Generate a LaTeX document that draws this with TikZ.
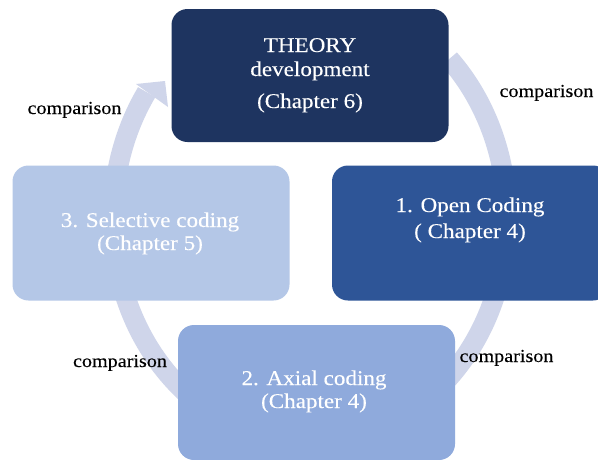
\documentclass[tikz,border=0pt]{standalone}
\usepackage{fontspec}
\setmainfont[FakeStretch=1.10,FakeBold=0.2]{Liberation Serif}
\definecolor{navy}{HTML}{1E3460}
\definecolor{openblue}{HTML}{2E5597}
\definecolor{axialblue}{HTML}{8FAADC}
\definecolor{selblue}{HTML}{B4C7E7}
\definecolor{ringc}{HTML}{CFD5EA}
\begin{document}
\begin{tikzpicture}[x=1pt,y=-1pt,
  box/.style={rounded corners=16pt, minimum width=277pt, minimum height=135pt, inner sep=0pt, draw=none},
  boxtext/.style={text=white, font=\fontsize{21}{24}\selectfont, anchor=base, inner sep=0pt},
  cmp/.style={font=\fontsize{18.3}{22}\selectfont, anchor=base, text=black, inner sep=0pt},
  ring/.style={draw=ringc, line width=20pt}]
\useasboundingbox (0,0) rectangle (598,459);
\clip (0,0) rectangle (598,459);
\fill[white] (0,0) rectangle (598,459);
% cycle ring
\draw[ring] (310,218) ++(-45:197 and 225) arc[start angle=-45,end angle=214,x radius=197,y radius=225] coordinate (ringend);
\fill[ringc] (136,84) -- (165,81) -- (168,107) -- cycle;
% boxes
\node[box, fill=navy, minimum height=133pt] (theory) at (310,75.5) {};
\node[box, fill=openblue] (open) at (470.5,233) {};
\node[box, fill=axialblue] (axial) at (316.5,392.5) {};
\node[box, fill=selblue] (selective) at (151,233) {};
% box texts
\node[boxtext] (th1) at (310,52) {THEORY};
\node[boxtext] (th2) at (310,76) {development};
\node[boxtext] (th3) at (310,108) {(Chapter 6)};
\node[boxtext] (op1) at (470,212) {1. Open Coding};
\node[boxtext] (op2) at (470,238) {( Chapter 4)};
\node[boxtext] (ax1) at (314,385) {2. Axial coding};
\node[boxtext] (ax2) at (314,408) {(Chapter 4)};
\node[boxtext] (se1) at (150,227) {3. Selective coding};
\node[boxtext] (se2) at (150,250) {(Chapter 5)};
% labels
\node[cmp] (c1) at (74.5,114) {comparison};
\node[cmp] (c2) at (546.5,97) {comparison};
\node[cmp] (c3) at (120,367) {comparison};
\node[cmp] (c4) at (506.5,362) {comparison};
\end{tikzpicture}
\end{document}
